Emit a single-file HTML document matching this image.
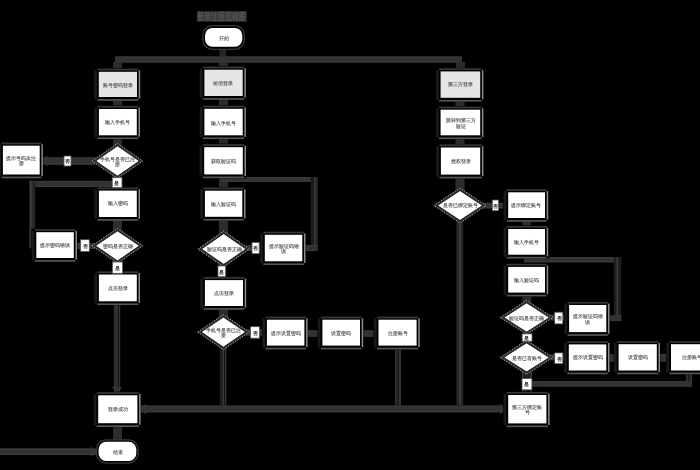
<!DOCTYPE html>
<html><head><meta charset="utf-8"><style>
html,body{margin:0;padding:0;background:#000;width:700px;height:470px;overflow:hidden}
body{position:relative;font-family:"Liberation Sans",sans-serif}
svg{position:absolute;left:0;top:0}
.t{position:absolute;will-change:transform;font-weight:bold;display:flex;align-items:center;justify-content:center;text-align:center;line-height:1.05;white-space:nowrap}
.title{position:absolute;will-change:transform;left:197px;top:10.5px;width:70px;height:11px;color:#555;font-size:10px;font-weight:bold;line-height:11px;white-space:nowrap;transform-origin:0 0;transform:scaleX(0.7)}
</style></head><body>
<svg width="700" height="470" viewBox="0 0 700 470">
<rect x="115" y="56.5" width="347" height="6.0" fill="#323232" />
<rect x="115" y="56.5" width="347" height="1.0" fill="#3a3a3a" />
<rect x="115" y="61.3" width="347" height="1.2" fill="#3a3a3a" />
<rect x="219.5" y="47" width="6.7" height="9.5" fill="#262626" />
<rect x="113.0" y="62" width="9.0" height="9.8" fill="#2c2c2c" />
<rect x="219.0" y="62" width="9.0" height="7.7" fill="#2c2c2c" />
<rect x="456.0" y="62" width="9.0" height="9.4" fill="#2c2c2c" />
<rect x="113.0" y="98.5" width="9.0" height="10.5" fill="#2c2c2c" />
<rect x="113.0" y="137" width="9.0" height="9" fill="#2c2c2c" />
<rect x="112.6" y="176" width="9.0" height="14.6" fill="#2c2c2c" />
<rect x="113.0" y="218.7" width="9.0" height="12.3" fill="#2c2c2c" />
<rect x="112.6" y="260.7" width="9.0" height="13.8" fill="#2c2c2c" />
<rect x="113.8" y="301.3" width="4.3" height="94.0" fill="#303030" />
<rect x="118.7" y="301.3" width="1.5" height="94.0" fill="#353535" />
<rect x="113.0" y="425" width="9.0" height="17.2" fill="#2c2c2c" />
<rect x="39.7" y="157.4" width="56.1" height="7.3" fill="#323232" />
<rect x="39.7" y="157.4" width="56.1" height="1.0" fill="#3a3a3a" />
<rect x="39.7" y="163.5" width="56.1" height="1.2" fill="#3a3a3a" />
<rect x="29.6" y="180.9" width="90.4" height="6.1" fill="#323232" />
<rect x="29.6" y="180.9" width="90.4" height="1.0" fill="#3a3a3a" />
<rect x="29.6" y="185.8" width="90.4" height="1.2" fill="#3a3a3a" />
<rect x="29.6" y="180.7" width="5.6" height="67.6" fill="#242424" />
<rect x="29.6" y="180.7" width="2.8" height="67.6" fill="#3a3a3a" />
<rect x="73.8" y="243.2" width="21.9" height="5.6" fill="#323232" />
<rect x="73.8" y="243.2" width="21.9" height="1.0" fill="#3a3a3a" />
<rect x="73.8" y="247.60000000000002" width="21.9" height="1.2" fill="#3a3a3a" />
<rect x="137.4" y="405.6" width="370.8" height="6.7" fill="#323232" />
<rect x="137.4" y="405.6" width="370.8" height="1.0" fill="#3a3a3a" />
<rect x="137.4" y="411.1" width="370.8" height="1.2" fill="#3a3a3a" />
<rect x="0" y="448.5" width="97" height="6.5" fill="#323232" />
<rect x="0" y="448.5" width="97" height="1.0" fill="#3a3a3a" />
<rect x="0" y="453.8" width="97" height="1.2" fill="#3a3a3a" />
<rect x="219.0" y="96" width="9.0" height="12.8" fill="#2c2c2c" />
<rect x="219.0" y="137" width="9.0" height="10.2" fill="#2c2c2c" />
<rect x="219.0" y="174.4" width="9.0" height="16.3" fill="#2c2c2c" />
<rect x="221" y="177" width="96.4" height="4.8" fill="#323232" />
<rect x="221" y="177" width="96.4" height="1" fill="#3a3a3a" />
<rect x="221" y="180.60000000000002" width="96.4" height="1.2" fill="#3a3a3a" />
<rect x="310.6" y="177" width="6.9" height="74" fill="#1a1a1a" />
<rect x="313.9" y="177" width="1.5" height="74" fill="#3c3c3c" />
<rect x="316" y="177" width="1.5" height="74" fill="#2c2c2c" />
<rect x="302.3" y="245" width="15.1" height="6" fill="#323232" />
<rect x="302.3" y="245" width="15.1" height="1" fill="#3a3a3a" />
<rect x="302.3" y="249.8" width="15.1" height="1.2" fill="#3a3a3a" />
<rect x="219.0" y="218.5" width="9.0" height="15.1" fill="#2c2c2c" />
<rect x="245.7" y="245.5" width="19.1" height="5.5" fill="#323232" />
<rect x="245.7" y="245.5" width="19.1" height="1.0" fill="#3a3a3a" />
<rect x="245.7" y="249.8" width="19.1" height="1.2" fill="#3a3a3a" />
<rect x="217.5" y="264.3" width="9.0" height="15.3" fill="#2c2c2c" />
<rect x="218.95" y="308" width="9.0" height="9.1" fill="#2c2c2c" />
<rect x="245.4" y="329.5" width="21.1" height="6.0" fill="#323232" />
<rect x="245.4" y="329.5" width="21.1" height="1.0" fill="#3a3a3a" />
<rect x="245.4" y="334.3" width="21.1" height="1.2" fill="#3a3a3a" />
<rect x="304.1" y="330.5" width="18.3" height="6.1" fill="#323232" />
<rect x="304.1" y="330.5" width="18.3" height="1.0" fill="#3a3a3a" />
<rect x="304.1" y="335.40000000000003" width="18.3" height="1.2" fill="#3a3a3a" />
<rect x="360" y="330.5" width="18.5" height="6.1" fill="#323232" />
<rect x="360" y="330.5" width="18.5" height="1.0" fill="#3a3a3a" />
<rect x="360" y="335.40000000000003" width="18.5" height="1.2" fill="#3a3a3a" />
<rect x="219.7" y="347.1" width="4.5" height="58.5" fill="#1e1e1e" />
<rect x="222.8" y="347.1" width="1.4" height="58.5" fill="#3a3a3a" />
<rect x="224.8" y="347.1" width="1.5" height="58.5" fill="#353535" />
<rect x="395.2" y="345.1" width="5.5" height="60.5" fill="#1e1e1e" />
<rect x="395.2" y="345.1" width="1.2" height="60.5" fill="#383838" />
<rect x="399.3" y="345.1" width="1.4" height="60.5" fill="#3c3c3c" />
<rect x="455.5" y="98.5" width="9.0" height="11.2" fill="#2c2c2c" />
<rect x="455.5" y="137" width="9.0" height="10.5" fill="#2c2c2c" />
<rect x="455.5" y="174.6" width="9.0" height="16.0" fill="#2c2c2c" />
<rect x="482" y="202.8" width="26.2" height="5.5" fill="#323232" />
<rect x="482" y="202.8" width="26.2" height="1.0" fill="#3a3a3a" />
<rect x="482" y="207.10000000000002" width="26.2" height="1.2" fill="#3a3a3a" />
<rect x="456.6" y="220.5" width="6.5" height="185.1" fill="#1c1c1c" />
<rect x="456.6" y="220.5" width="1.8" height="185.1" fill="#2c2c2c" />
<rect x="458.9" y="220.5" width="2.3" height="185.1" fill="#3a3a3a" />
<rect x="461.8" y="220.5" width="1.3" height="185.1" fill="#2c2c2c" />
<rect x="522.25" y="218" width="9.0" height="11" fill="#2c2c2c" />
<rect x="524" y="257" width="97.3" height="5.3" fill="#323232" />
<rect x="524" y="257" width="97.3" height="1" fill="#3a3a3a" />
<rect x="524" y="261.1" width="97.3" height="1.2" fill="#3a3a3a" />
<rect x="613.9" y="257" width="7.3" height="63.9" fill="#1e1e1e" />
<rect x="616.5" y="257" width="1.6" height="63.9" fill="#3c3c3c" />
<rect x="606.3" y="315.5" width="15.0" height="5.4" fill="#323232" />
<rect x="606.3" y="315.5" width="15.0" height="1.0" fill="#3a3a3a" />
<rect x="606.3" y="319.7" width="15.0" height="1.2" fill="#3a3a3a" />
<rect x="522.25" y="292.6" width="9.0" height="10.5" fill="#2c2c2c" />
<rect x="549.2" y="314.7" width="19.9" height="5.6" fill="#323232" />
<rect x="549.2" y="314.7" width="19.9" height="1.0" fill="#3a3a3a" />
<rect x="549.2" y="319.1" width="19.9" height="1.2" fill="#3a3a3a" />
<rect x="549.2" y="354.6" width="19.9" height="5.6" fill="#323232" />
<rect x="549.2" y="354.6" width="19.9" height="1.0" fill="#3a3a3a" />
<rect x="549.2" y="359.0" width="19.9" height="1.2" fill="#3a3a3a" />
<rect x="606.3" y="354.5" width="12.3" height="7.0" fill="#323232" />
<rect x="606.3" y="354.5" width="12.3" height="1.0" fill="#3a3a3a" />
<rect x="606.3" y="360.3" width="12.3" height="1.2" fill="#3a3a3a" />
<rect x="657.4" y="354" width="13.4" height="7.5" fill="#323232" />
<rect x="657.4" y="354" width="13.4" height="1" fill="#3a3a3a" />
<rect x="657.4" y="360.3" width="13.4" height="1.2" fill="#3a3a3a" />
<rect x="686.3" y="371" width="5.7" height="15.5" fill="#1e1e1e" />
<rect x="686.3" y="371" width="1.2" height="15.5" fill="#3a3a3a" />
<rect x="690.6" y="371" width="1.4" height="15.5" fill="#3c3c3c" />
<rect x="531" y="381.2" width="161" height="5.3" fill="#323232" />
<rect x="531" y="381.2" width="161" height="1.0" fill="#3a3a3a" />
<rect x="531" y="385.3" width="161" height="1.2" fill="#3a3a3a" />
<rect x="522" y="371.9" width="9.9" height="23.1" fill="#1e1e1e" />
<rect x="522" y="371.9" width="1.2" height="23.1" fill="#383838" />
<rect x="530.5" y="371.9" width="1.4" height="23.1" fill="#3c3c3c" />
<polygon points="41.5,161 47.5,155.5 47.5,166.5" fill="#353535"/>
<polygon points="75.5,246 81,241 81,251" fill="#353535"/>
<polygon points="139.5,409 146,403.5 146,414.5" fill="#353535"/>
<polygon points="96.8,451.8 90.5,446.5 90.5,457" fill="#353535"/>
<polygon points="506.5,409 500,403.5 500,414.5" fill="#353535"/>
<polygon points="117,394 112,387 122,387" fill="#353535"/>
<rect x="93.8" y="68.2" width="46.8" height="32.8" fill="#000"/>
<rect x="97.3" y="68.7" width="41.2" height="1.7" fill="#383838"/>
<rect x="97.3" y="99.1" width="41.2" height="1.7" fill="#555"/>
<rect x="138.7" y="70.4" width="1.5" height="28.2" fill="#8a8a8a"/>
<rect x="94.2" y="70.4" width="2.7" height="28.6" fill="#1a1a1a"/>
<rect x="98.8" y="71.8" width="38.2" height="25.2" fill="#e6e6e6"/>
<rect x="93.9" y="105.4" width="46.5" height="33.9" fill="#000"/>
<rect x="97.4" y="105.9" width="40.9" height="1.7" fill="#383838"/>
<rect x="97.4" y="137.4" width="40.9" height="1.7" fill="#555"/>
<rect x="138.5" y="107.6" width="1.5" height="29.3" fill="#8a8a8a"/>
<rect x="94.3" y="107.6" width="2.7" height="29.7" fill="#1a1a1a"/>
<rect x="98.9" y="109" width="37.9" height="26.3" fill="#ffffff"/>
<rect x="-2.1" y="142.1" width="45.4" height="36.4" fill="#000"/>
<rect x="1.4" y="142.6" width="39.8" height="1.7" fill="#383838"/>
<rect x="1.4" y="176.6" width="39.8" height="1.7" fill="#555"/>
<rect x="41.4" y="144.3" width="1.5" height="31.8" fill="#8a8a8a"/>
<rect x="-1.7" y="144.3" width="2.7" height="32.2" fill="#1a1a1a"/>
<rect x="2.9" y="145.7" width="36.8" height="28.8" fill="#ffffff"/>
<rect x="93.9" y="187.0" width="46.5" height="34.0" fill="#000"/>
<rect x="97.4" y="187.5" width="40.9" height="1.7" fill="#383838"/>
<rect x="97.4" y="219.1" width="40.9" height="1.7" fill="#555"/>
<rect x="138.5" y="189.2" width="1.5" height="29.4" fill="#8a8a8a"/>
<rect x="94.3" y="189.2" width="2.7" height="29.8" fill="#1a1a1a"/>
<rect x="98.9" y="190.6" width="37.9" height="26.4" fill="#ffffff"/>
<rect x="31.3" y="228.6" width="46.1" height="33.4" fill="#000"/>
<rect x="34.8" y="229.1" width="40.5" height="1.7" fill="#383838"/>
<rect x="34.8" y="260.1" width="40.5" height="1.7" fill="#555"/>
<rect x="75.5" y="230.8" width="1.5" height="28.8" fill="#8a8a8a"/>
<rect x="31.7" y="230.8" width="2.7" height="29.2" fill="#1a1a1a"/>
<rect x="36.3" y="232.2" width="37.5" height="25.8" fill="#ffffff"/>
<rect x="93.9" y="270.9" width="46.5" height="34.4" fill="#000"/>
<rect x="97.4" y="271.4" width="40.9" height="1.7" fill="#383838"/>
<rect x="97.4" y="303.4" width="40.9" height="1.7" fill="#555"/>
<rect x="138.5" y="273.1" width="1.5" height="29.8" fill="#8a8a8a"/>
<rect x="94.3" y="273.1" width="2.7" height="30.2" fill="#1a1a1a"/>
<rect x="98.9" y="274.5" width="37.9" height="26.8" fill="#ffffff"/>
<rect x="93.2" y="391.7" width="47.8" height="35.5" fill="#000"/>
<rect x="96.7" y="392.2" width="42.2" height="1.7" fill="#383838"/>
<rect x="96.7" y="425.3" width="42.2" height="1.7" fill="#555"/>
<rect x="139.1" y="393.9" width="1.5" height="30.9" fill="#8a8a8a"/>
<rect x="93.6" y="393.9" width="2.7" height="31.3" fill="#1a1a1a"/>
<rect x="98.2" y="395.3" width="39.2" height="27.9" fill="#ffffff"/>
<rect x="199.4" y="66.1" width="46.9" height="33.9" fill="#000"/>
<rect x="202.9" y="66.6" width="41.3" height="1.7" fill="#383838"/>
<rect x="202.9" y="98.1" width="41.3" height="1.7" fill="#555"/>
<rect x="244.4" y="68.3" width="1.5" height="29.3" fill="#8a8a8a"/>
<rect x="199.8" y="68.3" width="2.7" height="29.7" fill="#1a1a1a"/>
<rect x="204.4" y="69.7" width="38.3" height="26.3" fill="#e6e6e6"/>
<rect x="199.4" y="105.2" width="46.9" height="34.1" fill="#000"/>
<rect x="202.9" y="105.7" width="41.3" height="1.7" fill="#383838"/>
<rect x="202.9" y="137.4" width="41.3" height="1.7" fill="#555"/>
<rect x="244.4" y="107.4" width="1.5" height="29.5" fill="#8a8a8a"/>
<rect x="199.8" y="107.4" width="2.7" height="29.9" fill="#1a1a1a"/>
<rect x="204.4" y="108.8" width="38.3" height="26.5" fill="#ffffff"/>
<rect x="199.2" y="143.6" width="47.2" height="34.8" fill="#000"/>
<rect x="202.7" y="144.1" width="41.6" height="1.7" fill="#383838"/>
<rect x="202.7" y="176.5" width="41.6" height="1.7" fill="#555"/>
<rect x="244.5" y="145.8" width="1.5" height="30.2" fill="#8a8a8a"/>
<rect x="199.6" y="145.8" width="2.7" height="30.6" fill="#1a1a1a"/>
<rect x="204.2" y="147.2" width="38.6" height="27.2" fill="#ffffff"/>
<rect x="199.9" y="187.1" width="46.0" height="33.7" fill="#000"/>
<rect x="203.4" y="187.6" width="40.4" height="1.7" fill="#383838"/>
<rect x="203.4" y="218.9" width="40.4" height="1.7" fill="#555"/>
<rect x="244.0" y="189.3" width="1.5" height="29.1" fill="#8a8a8a"/>
<rect x="200.3" y="189.3" width="2.7" height="29.5" fill="#1a1a1a"/>
<rect x="204.9" y="190.7" width="37.4" height="26.1" fill="#ffffff"/>
<rect x="259.8" y="231.2" width="46.1" height="34.1" fill="#000"/>
<rect x="263.3" y="231.7" width="40.5" height="1.7" fill="#383838"/>
<rect x="263.3" y="263.4" width="40.5" height="1.7" fill="#555"/>
<rect x="304.0" y="233.4" width="1.5" height="29.5" fill="#8a8a8a"/>
<rect x="260.2" y="233.4" width="2.7" height="29.9" fill="#1a1a1a"/>
<rect x="264.8" y="234.8" width="37.5" height="26.5" fill="#ffffff"/>
<rect x="199.9" y="276.5" width="46.7" height="33.5" fill="#000"/>
<rect x="203.4" y="277.0" width="41.1" height="1.7" fill="#383838"/>
<rect x="203.4" y="308.1" width="41.1" height="1.7" fill="#555"/>
<rect x="244.7" y="278.7" width="1.5" height="28.9" fill="#8a8a8a"/>
<rect x="200.3" y="278.7" width="2.7" height="29.3" fill="#1a1a1a"/>
<rect x="204.9" y="280.1" width="38.1" height="25.9" fill="#ffffff"/>
<rect x="261.9" y="316.1" width="46.1" height="33.5" fill="#000"/>
<rect x="265.4" y="316.6" width="40.5" height="1.7" fill="#383838"/>
<rect x="265.4" y="347.7" width="40.5" height="1.7" fill="#555"/>
<rect x="306.1" y="318.3" width="1.5" height="28.9" fill="#8a8a8a"/>
<rect x="262.3" y="318.3" width="2.7" height="29.3" fill="#1a1a1a"/>
<rect x="266.9" y="319.7" width="37.5" height="25.9" fill="#ffffff"/>
<rect x="317.4" y="316.1" width="46.2" height="33.5" fill="#000"/>
<rect x="320.9" y="316.6" width="40.6" height="1.7" fill="#383838"/>
<rect x="320.9" y="347.7" width="40.6" height="1.7" fill="#555"/>
<rect x="361.7" y="318.3" width="1.5" height="28.9" fill="#8a8a8a"/>
<rect x="317.8" y="318.3" width="2.7" height="29.3" fill="#1a1a1a"/>
<rect x="322.4" y="319.7" width="37.6" height="25.9" fill="#ffffff"/>
<rect x="373.5" y="316.1" width="46.7" height="33.5" fill="#000"/>
<rect x="377.0" y="316.6" width="41.1" height="1.7" fill="#383838"/>
<rect x="377.0" y="347.7" width="41.1" height="1.7" fill="#555"/>
<rect x="418.3" y="318.3" width="1.5" height="28.9" fill="#8a8a8a"/>
<rect x="373.9" y="318.3" width="2.7" height="29.3" fill="#1a1a1a"/>
<rect x="378.5" y="319.7" width="38.1" height="25.9" fill="#ffffff"/>
<rect x="435.6" y="67.8" width="48.2" height="34.0" fill="#000"/>
<rect x="439.1" y="68.3" width="42.6" height="1.7" fill="#383838"/>
<rect x="439.1" y="99.9" width="42.6" height="1.7" fill="#555"/>
<rect x="481.9" y="70.0" width="1.5" height="29.4" fill="#8a8a8a"/>
<rect x="436.0" y="70.0" width="2.7" height="29.8" fill="#1a1a1a"/>
<rect x="440.6" y="71.4" width="39.6" height="26.4" fill="#e6e6e6"/>
<rect x="435.6" y="106.1" width="48.2" height="33.2" fill="#000"/>
<rect x="439.1" y="106.6" width="42.6" height="1.7" fill="#383838"/>
<rect x="439.1" y="137.4" width="42.6" height="1.7" fill="#555"/>
<rect x="481.9" y="108.3" width="1.5" height="28.6" fill="#8a8a8a"/>
<rect x="436.0" y="108.3" width="2.7" height="29.0" fill="#1a1a1a"/>
<rect x="440.6" y="109.7" width="39.6" height="25.6" fill="#ffffff"/>
<rect x="435.9" y="143.9" width="47.9" height="34.7" fill="#000"/>
<rect x="439.4" y="144.4" width="42.3" height="1.7" fill="#383838"/>
<rect x="439.4" y="176.7" width="42.3" height="1.7" fill="#555"/>
<rect x="481.9" y="146.1" width="1.5" height="30.1" fill="#8a8a8a"/>
<rect x="436.3" y="146.1" width="2.7" height="30.5" fill="#1a1a1a"/>
<rect x="440.9" y="147.5" width="39.3" height="27.1" fill="#ffffff"/>
<rect x="503.2" y="188.7" width="45.4" height="33.3" fill="#000"/>
<rect x="506.7" y="189.2" width="39.8" height="1.7" fill="#383838"/>
<rect x="506.7" y="220.1" width="39.8" height="1.7" fill="#555"/>
<rect x="546.7" y="190.9" width="1.5" height="28.7" fill="#8a8a8a"/>
<rect x="503.6" y="190.9" width="2.7" height="29.1" fill="#1a1a1a"/>
<rect x="508.2" y="192.3" width="36.8" height="25.7" fill="#ffffff"/>
<rect x="503.2" y="225.4" width="45.4" height="33.3" fill="#000"/>
<rect x="506.7" y="225.9" width="39.8" height="1.7" fill="#383838"/>
<rect x="506.7" y="256.8" width="39.8" height="1.7" fill="#555"/>
<rect x="546.7" y="227.6" width="1.5" height="28.7" fill="#8a8a8a"/>
<rect x="503.6" y="227.6" width="2.7" height="29.1" fill="#1a1a1a"/>
<rect x="508.2" y="229" width="36.8" height="25.7" fill="#ffffff"/>
<rect x="503.2" y="263.3" width="45.4" height="33.3" fill="#000"/>
<rect x="506.7" y="263.8" width="39.8" height="1.7" fill="#383838"/>
<rect x="506.7" y="294.7" width="39.8" height="1.7" fill="#555"/>
<rect x="546.7" y="265.5" width="1.5" height="28.7" fill="#8a8a8a"/>
<rect x="503.6" y="265.5" width="2.7" height="29.1" fill="#1a1a1a"/>
<rect x="508.2" y="266.9" width="36.8" height="25.7" fill="#ffffff"/>
<rect x="564.1" y="301.4" width="45.8" height="34.7" fill="#000"/>
<rect x="567.6" y="301.9" width="40.2" height="1.7" fill="#383838"/>
<rect x="567.6" y="334.2" width="40.2" height="1.7" fill="#555"/>
<rect x="608.0" y="303.6" width="1.5" height="30.1" fill="#8a8a8a"/>
<rect x="564.5" y="303.6" width="2.7" height="30.5" fill="#1a1a1a"/>
<rect x="569.1" y="305" width="37.2" height="27.1" fill="#ffffff"/>
<rect x="563.8" y="340.8" width="46.1" height="33.7" fill="#000"/>
<rect x="567.3" y="341.3" width="40.5" height="1.7" fill="#383838"/>
<rect x="567.3" y="372.6" width="40.5" height="1.7" fill="#555"/>
<rect x="608.0" y="343.0" width="1.5" height="29.1" fill="#8a8a8a"/>
<rect x="564.2" y="343.0" width="2.7" height="29.5" fill="#1a1a1a"/>
<rect x="568.8" y="344.4" width="37.5" height="26.1" fill="#ffffff"/>
<rect x="613.6" y="340.6" width="46.8" height="33.9" fill="#000"/>
<rect x="617.1" y="341.1" width="41.2" height="1.7" fill="#383838"/>
<rect x="617.1" y="372.6" width="41.2" height="1.7" fill="#555"/>
<rect x="658.5" y="342.8" width="1.5" height="29.3" fill="#8a8a8a"/>
<rect x="614.0" y="342.8" width="2.7" height="29.7" fill="#1a1a1a"/>
<rect x="618.6" y="344.2" width="38.2" height="26.3" fill="#ffffff"/>
<rect x="666" y="340.6" width="49.6" height="33.9" fill="#000"/>
<rect x="669.5" y="341.1" width="44.0" height="1.7" fill="#383838"/>
<rect x="669.5" y="372.6" width="44.0" height="1.7" fill="#555"/>
<rect x="713.7" y="342.8" width="1.5" height="29.3" fill="#8a8a8a"/>
<rect x="666.4" y="342.8" width="2.7" height="29.7" fill="#1a1a1a"/>
<rect x="671" y="344.2" width="41" height="26.3" fill="#ffffff"/>
<rect x="503.2" y="391.4" width="46.8" height="36.0" fill="#000"/>
<rect x="506.7" y="391.9" width="41.2" height="1.7" fill="#383838"/>
<rect x="506.7" y="425.5" width="41.2" height="1.7" fill="#555"/>
<rect x="548.1" y="393.6" width="1.5" height="31.4" fill="#8a8a8a"/>
<rect x="503.6" y="393.6" width="2.7" height="31.8" fill="#1a1a1a"/>
<rect x="508.2" y="395" width="38.2" height="28.4" fill="#ffffff"/>
<polygon points="92.1,161 117.5,143.44400000000002 142.89999999999998,161 117.5,178.55599999999998" fill="#000"/>
<polygon points="93.7,161 117.5,144.532 141.29999999999998,161 117.5,177.468" fill="none" stroke="#303030" stroke-width="2.2"/>
<polygon points="92.1,161 117.5,143.44400000000002 142.89999999999998,161 117.5,178.55599999999998" fill="none" stroke="#c8c8c8" stroke-width="1" stroke-dasharray="1 1.8"/>
<polygon points="96.3,161 117.5,146.3 138.7,161 117.5,175.7" fill="#fff"/>
<polygon points="91.89999999999999,245.8 117.5,228.34400000000002 143.1,245.8 117.5,263.25600000000003" fill="#000"/>
<polygon points="93.5,245.8 117.5,229.43200000000002 141.5,245.8 117.5,262.168" fill="none" stroke="#303030" stroke-width="2.2"/>
<polygon points="91.89999999999999,245.8 117.5,228.34400000000002 143.1,245.8 117.5,263.25600000000003" fill="none" stroke="#c8c8c8" stroke-width="1" stroke-dasharray="1 1.8"/>
<polygon points="96.1,245.8 117.5,231.20000000000002 138.9,245.8 117.5,260.40000000000003" fill="#fff"/>
<polygon points="197.9,249 223.7,231.044 249.49999999999997,249 223.7,266.956" fill="#000"/>
<polygon points="199.5,249 223.7,232.132 247.89999999999998,249 223.7,265.868" fill="none" stroke="#303030" stroke-width="2.2"/>
<polygon points="197.9,249 223.7,231.044 249.49999999999997,249 223.7,266.956" fill="none" stroke="#c8c8c8" stroke-width="1" stroke-dasharray="1 1.8"/>
<polygon points="202.1,249 223.7,233.9 245.29999999999998,249 223.7,264.1" fill="#fff"/>
<polygon points="197.60000000000002,332.1 223.4,314.54400000000004 249.2,332.1 223.4,349.656" fill="#000"/>
<polygon points="199.20000000000002,332.1 223.4,315.63200000000006 247.6,332.1 223.4,348.568" fill="none" stroke="#303030" stroke-width="2.2"/>
<polygon points="197.60000000000002,332.1 223.4,314.54400000000004 249.2,332.1 223.4,349.656" fill="none" stroke="#c8c8c8" stroke-width="1" stroke-dasharray="1 1.8"/>
<polygon points="201.8,332.1 223.4,317.40000000000003 245.0,332.1 223.4,346.8" fill="#fff"/>
<polygon points="433.90000000000003,205.5 460,188.044 486.09999999999997,205.5 460,222.956" fill="#000"/>
<polygon points="435.5,205.5 460,189.132 484.5,205.5 460,221.868" fill="none" stroke="#303030" stroke-width="2.2"/>
<polygon points="433.90000000000003,205.5 460,188.044 486.09999999999997,205.5 460,222.956" fill="none" stroke="#c8c8c8" stroke-width="1" stroke-dasharray="1 1.8"/>
<polygon points="438.1,205.5 460,190.9 481.9,205.5 460,220.1" fill="#fff"/>
<polygon points="500.20000000000005,317.5 526.6,300.444 553.0000000000001,317.5 526.6,334.556" fill="#000"/>
<polygon points="501.8,317.5 526.6,301.53200000000004 551.4000000000001,317.5 526.6,333.46799999999996" fill="none" stroke="#303030" stroke-width="2.2"/>
<polygon points="500.20000000000005,317.5 526.6,300.444 553.0000000000001,317.5 526.6,334.556" fill="none" stroke="#c8c8c8" stroke-width="1" stroke-dasharray="1 1.8"/>
<polygon points="504.40000000000003,317.5 526.6,303.3 548.8000000000001,317.5 526.6,331.7" fill="#fff"/>
<polygon points="500.20000000000005,357.4 526.6,340.344 553.0000000000001,357.4 526.6,374.45599999999996" fill="#000"/>
<polygon points="501.8,357.4 526.6,341.432 551.4000000000001,357.4 526.6,373.36799999999994" fill="none" stroke="#303030" stroke-width="2.2"/>
<polygon points="500.20000000000005,357.4 526.6,340.344 553.0000000000001,357.4 526.6,374.45599999999996" fill="none" stroke="#c8c8c8" stroke-width="1" stroke-dasharray="1 1.8"/>
<polygon points="504.40000000000003,357.4 526.6,343.2 548.8000000000001,357.4 526.6,371.59999999999997" fill="#fff"/>
<rect x="64" y="156" width="7" height="10" fill="#fff" stroke="#555" stroke-width="0.8"/>
<rect x="112.2" y="177.7" width="9.8" height="9.9" fill="#fff" stroke="#555" stroke-width="0.8"/>
<rect x="80.7" y="239.7" width="8.6" height="11.8" fill="#fff" stroke="#555" stroke-width="0.8"/>
<rect x="112.4" y="262" width="10.2" height="11.3" fill="#fff" stroke="#555" stroke-width="0.8"/>
<rect x="252" y="242.4" width="7.2" height="11.3" fill="#fff" stroke="#555" stroke-width="0.8"/>
<rect x="218" y="266" width="7.6" height="10.7" fill="#fff" stroke="#555" stroke-width="0.8"/>
<rect x="250.6" y="326.7" width="8.9" height="11.5" fill="#fff" stroke="#555" stroke-width="0.8"/>
<rect x="492.3" y="200" width="6.3" height="10.7" fill="#fff" stroke="#555" stroke-width="0.8"/>
<rect x="554.7" y="312.2" width="8.1" height="11.7" fill="#fff" stroke="#555" stroke-width="0.8"/>
<rect x="522.1" y="333.9" width="9.9" height="7.4" fill="#fff" stroke="#555" stroke-width="0.8"/>
<rect x="554.7" y="352.9" width="8.1" height="10.8" fill="#fff" stroke="#555" stroke-width="0.8"/>
<rect x="522" y="378.6" width="9.9" height="11.2" fill="#fff" stroke="#555" stroke-width="0.8"/>
<rect x="202.9" y="25.7" width="41.4" height="23.6" rx="9.5" fill="#000" stroke="#383838" stroke-width="1.3"/>
<rect x="205" y="27.9" width="37.3" height="18.8" rx="7.5" fill="#fff"/>
<rect x="197" y="11.2" width="49.5" height="10.4" fill="#383838"/>
<rect x="96.5" y="439.8" width="41.6" height="23.3" rx="9.5" fill="#000" stroke="#383838" stroke-width="1.3"/>
<rect x="98.6" y="441.7" width="37.7" height="19.2" rx="7.5" fill="#fff"/>
</svg>
<div class="title">登录注册流程图</div>
<div class="t" style="left:98.8px;top:72.6px;width:38.2px;height:25.2px;font-size:5.2px;color:#686868">账号密码登录</div>
<div class="t" style="left:98.9px;top:109.8px;width:37.9px;height:26.3px;font-size:5.2px;color:#686868">输入手机号</div>
<div class="t" style="left:2.9px;top:146.5px;width:36.8px;height:28.8px;font-size:5.2px;color:#686868">提示号码未注<br>册</div>
<div class="t" style="left:98.9px;top:191.4px;width:37.9px;height:26.4px;font-size:5.2px;color:#686868">输入密码</div>
<div class="t" style="left:36.3px;top:233.0px;width:37.5px;height:25.8px;font-size:5.2px;color:#686868">提示密码错误</div>
<div class="t" style="left:98.9px;top:275.3px;width:37.9px;height:26.8px;font-size:5.2px;color:#686868">点击登录</div>
<div class="t" style="left:98.2px;top:396.1px;width:39.2px;height:27.9px;font-size:5.2px;color:#686868">登录成功</div>
<div class="t" style="left:204.4px;top:70.5px;width:38.3px;height:26.3px;font-size:5.2px;color:#686868">短信登录</div>
<div class="t" style="left:204.4px;top:109.6px;width:38.3px;height:26.5px;font-size:5.2px;color:#686868">输入手机号</div>
<div class="t" style="left:204.2px;top:148.0px;width:38.6px;height:27.2px;font-size:5.2px;color:#686868">获取验证码</div>
<div class="t" style="left:204.9px;top:191.5px;width:37.4px;height:26.1px;font-size:5.2px;color:#686868">输入验证码</div>
<div class="t" style="left:264.8px;top:235.6px;width:37.5px;height:26.5px;font-size:5.2px;color:#686868">提示验证码错<br>误</div>
<div class="t" style="left:204.9px;top:280.9px;width:38.1px;height:25.9px;font-size:5.2px;color:#686868">点击登录</div>
<div class="t" style="left:266.9px;top:320.5px;width:37.5px;height:25.9px;font-size:5.2px;color:#686868">提示设置密码</div>
<div class="t" style="left:322.4px;top:320.5px;width:37.6px;height:25.9px;font-size:5.2px;color:#686868">设置密码</div>
<div class="t" style="left:378.5px;top:320.5px;width:38.1px;height:25.9px;font-size:5.2px;color:#686868">注册账号</div>
<div class="t" style="left:440.6px;top:72.2px;width:39.6px;height:26.4px;font-size:5.2px;color:#686868">第三方登录</div>
<div class="t" style="left:440.6px;top:110.5px;width:39.6px;height:25.6px;font-size:5.2px;color:#686868">跳转到第三方<br>验证</div>
<div class="t" style="left:440.9px;top:148.3px;width:39.3px;height:27.1px;font-size:5.2px;color:#686868">授权登录</div>
<div class="t" style="left:508.2px;top:193.1px;width:36.8px;height:25.7px;font-size:5.2px;color:#686868">提示绑定账号</div>
<div class="t" style="left:508.2px;top:229.8px;width:36.8px;height:25.7px;font-size:5.2px;color:#686868">输入手机号</div>
<div class="t" style="left:508.2px;top:267.7px;width:36.8px;height:25.7px;font-size:5.2px;color:#686868">输入验证码</div>
<div class="t" style="left:569.1px;top:305.8px;width:37.2px;height:27.1px;font-size:5.2px;color:#686868">提示验证码错<br>误</div>
<div class="t" style="left:568.8px;top:345.2px;width:37.5px;height:26.1px;font-size:5.2px;color:#686868">提示设置密码</div>
<div class="t" style="left:618.6px;top:345.0px;width:38.2px;height:26.3px;font-size:5.2px;color:#686868">设置密码</div>
<div class="t" style="left:671px;top:345.0px;width:41px;height:26.3px;font-size:5.2px;color:#686868">注册账号</div>
<div class="t" style="left:508.2px;top:395.8px;width:38.2px;height:28.4px;font-size:5.2px;color:#686868">第三方绑定账<br>号</div>
<div class="t" style="left:95.9px;top:146.8px;width:43.2px;height:30px;font-size:4.9px;color:#686868">手机号是否已注<br>册</div>
<div class="t" style="left:95.7px;top:231.7px;width:43.6px;height:29.8px;font-size:4.9px;color:#686868">密码是否正确</div>
<div class="t" style="left:201.7px;top:234.4px;width:44.0px;height:30.8px;font-size:4.9px;color:#686868">验证码是否正确</div>
<div class="t" style="left:201.4px;top:317.9px;width:44.0px;height:30.0px;font-size:4.9px;color:#686868">手机号是否已注<br>册</div>
<div class="t" style="left:437.7px;top:191.4px;width:44.6px;height:29.8px;font-size:4.9px;color:#686868">是否已绑定账号</div>
<div class="t" style="left:504.0px;top:303.8px;width:45.2px;height:29.0px;font-size:4.9px;color:#686868">验证码是否正确</div>
<div class="t" style="left:504.0px;top:343.7px;width:45.2px;height:29.0px;font-size:4.9px;color:#686868">是否已有账号</div>
<div class="t" style="left:64px;top:156.8px;width:7px;height:10px;font-size:5px;color:#333">否</div>
<div class="t" style="left:112.2px;top:178.5px;width:9.8px;height:9.9px;font-size:5px;color:#333">是</div>
<div class="t" style="left:80.7px;top:240.5px;width:8.6px;height:11.8px;font-size:5px;color:#333">否</div>
<div class="t" style="left:112.4px;top:262.8px;width:10.2px;height:11.3px;font-size:5px;color:#333">是</div>
<div class="t" style="left:252px;top:243.2px;width:7.2px;height:11.3px;font-size:5px;color:#333">否</div>
<div class="t" style="left:218px;top:266.8px;width:7.6px;height:10.7px;font-size:5px;color:#333">是</div>
<div class="t" style="left:250.6px;top:327.5px;width:8.9px;height:11.5px;font-size:5px;color:#333">否</div>
<div class="t" style="left:492.3px;top:200.8px;width:6.3px;height:10.7px;font-size:5px;color:#333">否</div>
<div class="t" style="left:554.7px;top:313.0px;width:8.1px;height:11.7px;font-size:5px;color:#333">否</div>
<div class="t" style="left:522.1px;top:334.7px;width:9.9px;height:7.4px;font-size:5px;color:#333">是</div>
<div class="t" style="left:554.7px;top:353.7px;width:8.1px;height:10.8px;font-size:5px;color:#333">否</div>
<div class="t" style="left:522px;top:379.4px;width:9.9px;height:11.2px;font-size:5px;color:#333">是</div>
<div class="t" style="left:205px;top:28.7px;width:37.3px;height:18.8px;font-size:4.8px;color:#686868">开始</div>
<div class="t" style="left:98.6px;top:442.5px;width:37.7px;height:19.2px;font-size:5.0px;color:#686868">结束</div>
</body></html>
